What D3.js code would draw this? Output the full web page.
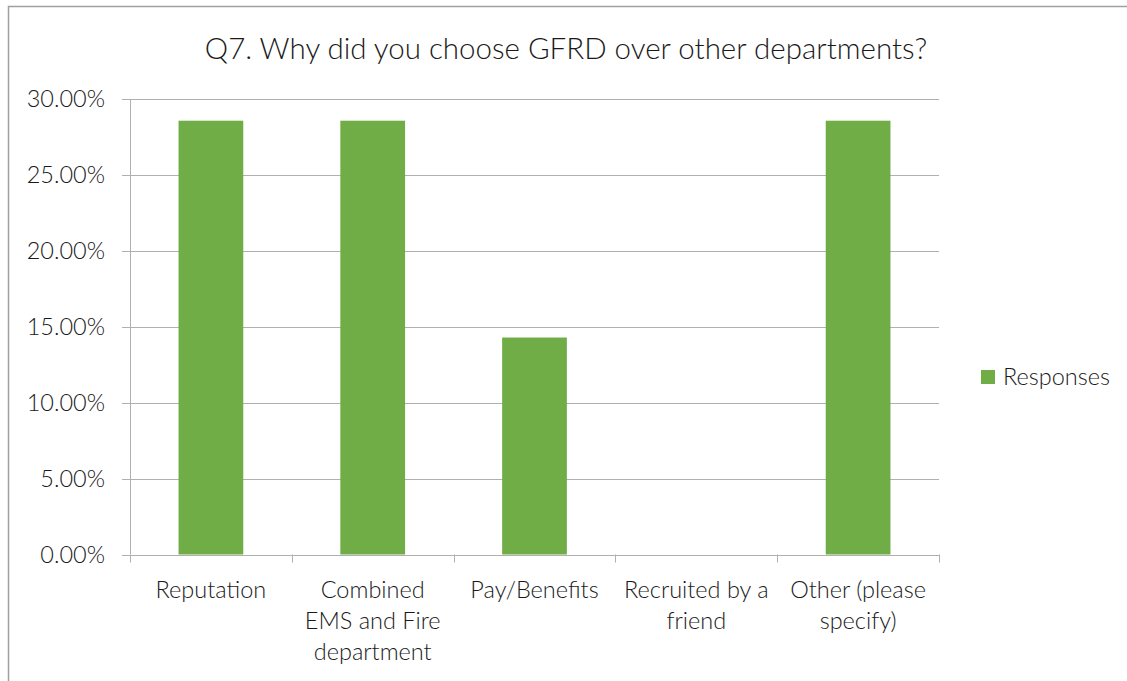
<!DOCTYPE html>
<html><head><meta charset="utf-8">
<script src="https://cdn.jsdelivr.net/npm/d3@7"></script>
<style>html,body{margin:0;padding:0;background:#fff;}svg{display:block;}</style>
</head><body>
<svg id="c" width="1127" height="681"></svg>
<script>
const categories = ["Reputation", "Combined EMS and Fire department", "Pay/Benefits", "Recruited by a friend", "Other (please specify)"];
const labelLines = [["Reputation"], ["Combined", "EMS and Fire", "department"], ["Pay/Benefits"], ["Recruited by a", "friend"], ["Other (please", "specify)"]];
const responses = [0.2857, 0.2857, 0.1429, 0, 0.2857];
const yTicks = [0, 0.05, 0.10, 0.15, 0.20, 0.25, 0.30];
const seriesName = "Responses";
const title = "Q7. Why did you choose GFRD over other departments?";

const svg = d3.select("#c");
const font = "Lato, 'Noto Sans', sans-serif";
const green = "#70ad47", grid = "#b0b0b0";
const fs = 23.5, fw = 300, tc = "#1a1a1a";

svg.append("rect").attr("x", 8.5).attr("y", 6.5).attr("width", 1200).attr("height", 800)
  .attr("fill", "#fff").attr("stroke", "#a0a0a0").attr("stroke-width", 1.5);

const L = 130, R = 939, T = 99, B = 554.5;
const x = d3.scaleBand().domain(categories).range([L, R]).paddingInner(0.6).paddingOuter(0.3);
const band = d3.scaleBand().domain(categories).range([L, R]);
const y = d3.scaleLinear().domain([0, 0.30]).range([B, T]);

svg.append("g").selectAll("line").data(yTicks).join("line")
  .attr("x1", L - 8).attr("x2", R).attr("y1", d => Math.round(y(d)) + 0.5).attr("y2", d => Math.round(y(d)) + 0.5)
  .attr("stroke", grid).attr("stroke-width", 1);

svg.append("line").attr("x1", L + 0.5).attr("x2", L + 0.5).attr("y1", T).attr("y2", B)
  .attr("stroke", grid);

svg.append("g").selectAll("rect").data(categories).join("rect")
  .attr("x", d => x(d)).attr("width", x.bandwidth())
  .attr("y", (d, i) => y(responses[i])).attr("height", (d, i) => B - y(responses[i]))
  .attr("fill", green);

svg.append("line").attr("x1", L).attr("x2", R).attr("y1", Math.round(B) + 0.5).attr("y2", Math.round(B) + 0.5).attr("stroke", grid);
const tickXs = categories.map(c => band(c)).concat([R]);
svg.append("g").selectAll("line").data(tickXs).join("line")
  .attr("x1", d => Math.round(d) + 0.5).attr("x2", d => Math.round(d) + 0.5)
  .attr("y1", B).attr("y2", B + 8).attr("stroke", grid);

svg.append("g").selectAll("text").data(yTicks).join("text")
  .attr("x", 105).attr("y", d => y(d)).attr("dy", "0.35em")
  .attr("text-anchor", "end").attr("font-family", font).attr("font-weight", fw).attr("font-size", fs).attr("fill", tc)
  .text(d => d3.format(".2%")(d));

const xl = svg.append("g");
categories.forEach((c, i) => {
  const cx = band(c) + band.bandwidth() / 2;
  const t = xl.append("text").attr("text-anchor", "middle").attr("font-family", font)
    .attr("font-weight", fw).attr("font-size", fs).attr("fill", tc);
  labelLines[i].forEach((ln, j) => {
    t.append("tspan").attr("x", cx).attr("y", 598 + j * 31).text(ln);
  });
});

svg.append("text").attr("x", 566).attr("y", 59).attr("text-anchor", "middle")
  .attr("font-family", font).attr("font-weight", 300).attr("font-size", 29.5).attr("fill", tc).text(title);

svg.append("rect").attr("x", 981).attr("y", 370).attr("width", 14).attr("height", 14).attr("fill", green);
svg.append("text").attr("x", 1003).attr("y", 377).attr("dy", "0.35em")
  .attr("font-family", font).attr("font-weight", fw).attr("font-size", fs).attr("fill", tc).text(seriesName);
</script>
</body></html>
